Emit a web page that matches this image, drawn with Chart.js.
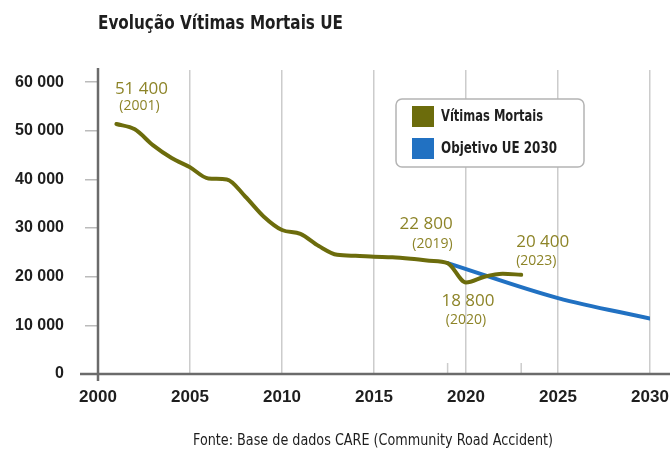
<!DOCTYPE html>
<html><head><meta charset="utf-8">
<script src="https://cdn.jsdelivr.net/npm/chart.js@4"></script>
<style>html,body{margin:0;padding:0;background:#fff}#wrap{width:670px;height:450px}</style>
</head><body><div id="wrap"><canvas id="c" width="670" height="450"></canvas></div>
<script>
const years = [2001,2002,2003,2004,2005,2006,2007,2008,2009,2010,2011,2012,2013,2014,2015,2016,2017,2018,2019,2020,2021,2022,2023];
const deaths = [51400,50300,47000,44400,42500,40200,40000,36500,32400,29600,28800,26300,24500,24300,24100,24000,23700,23300,22800,18800,20000,20600,20400];
const targetYears = [2019,2025,2030];
const targetValues = [22800,15600,11400];
const yTicks = [0,10000,20000,30000,40000,50000,60000];
const xTicks = [2000,2005,2010,2015,2020,2025,2030];
const minorYears = [2019,2023];
const labelYears = [2001,2019,2020,2023];
const titleText = 'Evolução Vítimas Mortais UE';
const footerText = 'Fonte: Base de dados CARE (Community Road Accident)';
const seriesNames = ['Vítimas Mortais','Objetivo UE 2030'];

const OLIVE = '#6c6c0c', BLUE = '#2171c2', ANNO = '#8d8428';
const fmt = v => String(v).replace(/\B(?=(\d{3})+(?!\d))/g, ' ');
const COND = '"DejaVu Sans", sans-serif';

// pixel offsets of annotation text relative to the data point
const annoStyle = {
  2001: {align:'center', dx:25, dy1:-35, dx2:23, dy2:-18},
  2019: {align:'right', dx:5, dy1:-39, dx2:5, dy2:-19},
  2020: {align:'center', dx:2, dy1:19, dx2:0, dy2:37},
  2023: {align:'left', dx:-5, dy1:-33, dx2:-5, dy2:-14}
};

// draw text squeezed horizontally to a given width (condensed look)
function squeezed(ctx, text, x, y, width, align){
  const w = ctx.measureText(text).width;
  const k = Math.min(1, width / w);
  ctx.save();
  let left = x;
  if (align === 'center') left = x - width/2;
  ctx.translate(left, y); ctx.scale(k, 1);
  ctx.textAlign = 'left';
  ctx.fillText(text, 0, 0);
  ctx.restore();
}

const deco = {
  id:'deco',
  beforeDatasetsDraw(chart){
    const {ctx, scales:{x,y}} = chart;
    const x0 = x.getPixelForValue(2000), y0 = y.getPixelForValue(0);
    ctx.save();
    ctx.strokeStyle = '#cccccc'; ctx.lineWidth = 1.5;
    minorYears.forEach(yr => { const px = x.getPixelForValue(yr); ctx.beginPath(); ctx.moveTo(px, y0-11); ctx.lineTo(px, y0); ctx.stroke(); });
    ctx.strokeStyle = '#6b6b6b'; ctx.lineWidth = 2.5;
    ctx.beginPath(); ctx.moveTo(x0, chart.chartArea.top-2); ctx.lineTo(x0, y0+7); ctx.stroke();
    ctx.beginPath(); ctx.moveTo(80, y0); ctx.lineTo(670, y0); ctx.stroke();
    ctx.restore();
  },
  afterDatasetsDraw(chart){
    const {ctx, scales:{x,y}} = chart;
    ctx.save();
    labelYears.forEach(yr => {
      const i = years.indexOf(yr), v = deaths[i], s = annoStyle[yr];
      const px = x.getPixelForValue(yr), py = y.getPixelForValue(v);
      ctx.fillStyle = ANNO; ctx.textAlign = s.align; ctx.textBaseline = 'middle';
      ctx.font = '17px "Open Sans", sans-serif';
      ctx.fillText(fmt(v), px + s.dx, py + s.dy1);
      ctx.font = '14px "Open Sans", sans-serif';
      ctx.fillText('(' + yr + ')', px + s.dx2, py + s.dy2);
    });
    // legend
    const bx=396, by=99, bw=188, bh=68, r=6;
    ctx.beginPath(); ctx.roundRect(bx, by, bw, bh, r);
    ctx.fillStyle = '#fff'; ctx.fill(); ctx.strokeStyle = '#b4b4b4'; ctx.lineWidth = 1.5; ctx.stroke();
    const legW = [102, 116];
    chart.data.datasets.forEach((ds, i) => {
      const sy = 106 + i*32;
      ctx.fillStyle = ds.borderColor; ctx.fillRect(412, sy, 22, 21);
      ctx.fillStyle = '#1e1e1e'; ctx.textBaseline='middle';
      ctx.font = 'bold 15px ' + COND;
      squeezed(ctx, ds.label, 441, sy + 11, legW[i], 'left');
    });
    // title & footer
    ctx.fillStyle = '#1e1e1e'; ctx.textBaseline='middle';
    ctx.font = 'bold 19px ' + COND;
    squeezed(ctx, titleText, 98, 24, 245, 'left');
    ctx.font = '15px ' + COND;
    squeezed(ctx, footerText, 373, 441, 360, 'center');
    ctx.restore();
  }
};

new Chart(document.getElementById('c'), {
  type:'line',
  data:{ datasets:[
    { label:seriesNames[0], data: years.map((yr,i)=>({x:yr, y:deaths[i]})), borderColor:OLIVE, borderWidth:4, pointRadius:0, cubicInterpolationMode:'monotone', borderCapStyle:'round', borderJoinStyle:'round', order:1 },
    { label:seriesNames[1], data: targetYears.map((yr,i)=>({x:yr, y:targetValues[i]})), borderColor:BLUE, borderWidth:4, pointRadius:0, cubicInterpolationMode:'monotone', borderCapStyle:'round', order:2 }
  ]},
  options:{
    responsive:false, animation:false, devicePixelRatio:1,
    layout:{padding:{left:0, top:70, right:0, bottom:0}},
    plugins:{legend:{display:false}, tooltip:{enabled:false}, title:{display:false}},
    scales:{
      x:{ type:'linear', min:2000, max:2030,
          afterBuildTicks: s => { s.ticks = xTicks.map(v=>({value:v})); },
          afterFit: s => { s.height = 76; s.paddingRight = 20; },
          grid:{ color: c => c.tick && c.tick.value === 2000 ? 'rgba(0,0,0,0)' : '#cccccc', lineWidth:1.5, drawTicks:false },
          border:{display:false},
          ticks:{ padding:13, color:'#1e1e1e', font:{family:'"Liberation Sans", Arial, sans-serif', weight:'bold', size:17}, callback: v => String(v) }
      },
      y:{ min:0, max:62500,
          afterBuildTicks: s => { s.ticks = yTicks.map(v=>({value:v})); },
          afterFit: s => { s.width = 98; },
          grid:{ drawOnChartArea:false, drawTicks:true, tickLength:13, color:'#bbbbbb', lineWidth:1.5 },
          border:{display:false},
          ticks:{ padding:21, color:'#1e1e1e', font:{family:'"Liberation Sans", Arial, sans-serif', weight:'bold', size:16}, callback: v => fmt(v) }
      }
    }
  },
  plugins:[deco]
});
</script></body></html>
